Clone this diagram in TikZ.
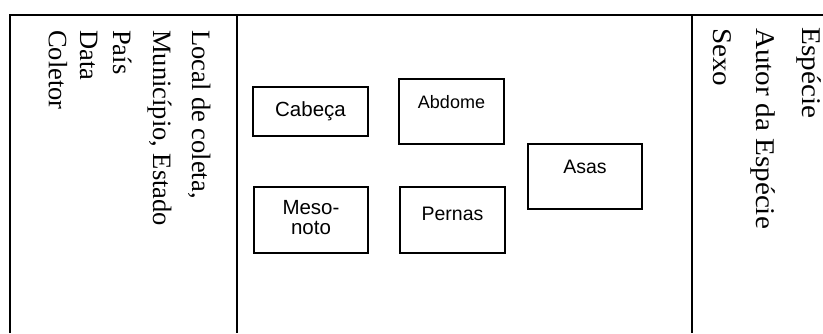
\documentclass[tikz,border=0pt]{standalone}
\usepackage{fontspec}
\setmainfont{Liberation Serif}
\newfontfamily\boxfont{Liberation Sans}
\begin{document}
\begin{tikzpicture}[x=1pt,y=1pt,
  frame/.style={line width=2.2pt},
  partbox/.style={draw, line width=1.5pt, inner sep=0pt},
  parttext/.style={inner sep=0pt, align=center, font=\boxfont\fontsize{19.5}{21}\selectfont},
  lefttext/.style={rotate=-90, anchor=base west, inner sep=0pt, font=\fontsize{26.5}{27}\selectfont},
  righttext/.style={rotate=-90, anchor=base west, inner sep=0pt, xscale=1.08, font=\fontsize{27}{27}\selectfont}]
\useasboundingbox (0,0) rectangle (823,333);
% frame
\coordinate (tl) at (10,318);
\coordinate (tr) at (823,318);
\coordinate (bl) at (10,0);
\coordinate (d1t) at (237,318);
\coordinate (d1b) at (237,0);
\coordinate (d2t) at (692,318);
\coordinate (d2b) at (692,0);
\draw[frame] (bl) -- (tl) -- (tr);
\draw[frame] (d1t) -- (d1b);
\draw[frame] (d2t) -- (d2b);
% left texts
\node[lefttext] (local) at (192,303) {Local de coleta,};
\node[lefttext] (mun) at (153,303) {Município, Estado};
\node[lefttext] (pais) at (113,303) {País};
\node[lefttext] (data) at (80,303) {Data};
\node[lefttext] (col) at (49,303) {Coletor};
% right texts
\node[righttext] (esp) at (802,305.5) {Espécie};
\node[righttext] (autor) at (756,305) {Autor da Espécie};
\node[righttext] (sexo) at (713,305) {Sexo};
% boxes
\node[partbox, minimum width=115pt, minimum height=49pt] (cabeca) at (310.5,221.5) {};
\node[parttext, font=\boxfont\fontsize{20.5}{22}\selectfont] (cabecat) at (310.5,222) {Cabeça};
\node[partbox, minimum width=105pt, minimum height=65pt] (abdome) at (451.5,221.5) {};
\node[parttext, font=\boxfont\fontsize{18}{20}\selectfont] (abdomet) at (451.5,231) {Abdome};
\node[partbox, minimum width=114pt, minimum height=65pt] (asas) at (585,156.5) {};
\node[parttext] (asast) at (585,166.5) {Asas};
\node[partbox, minimum width=114pt, minimum height=66pt] (meso) at (311,113) {};
\node[parttext, font=\boxfont\fontsize{20.5}{20}\selectfont] (mesot) at (311,115) {Meso-\\noto};
\node[partbox, minimum width=105pt, minimum height=66pt] (pernas) at (452.5,113) {};
\node[parttext] (pernast) at (452.5,119) {Pernas};
\end{tikzpicture}
\end{document}
